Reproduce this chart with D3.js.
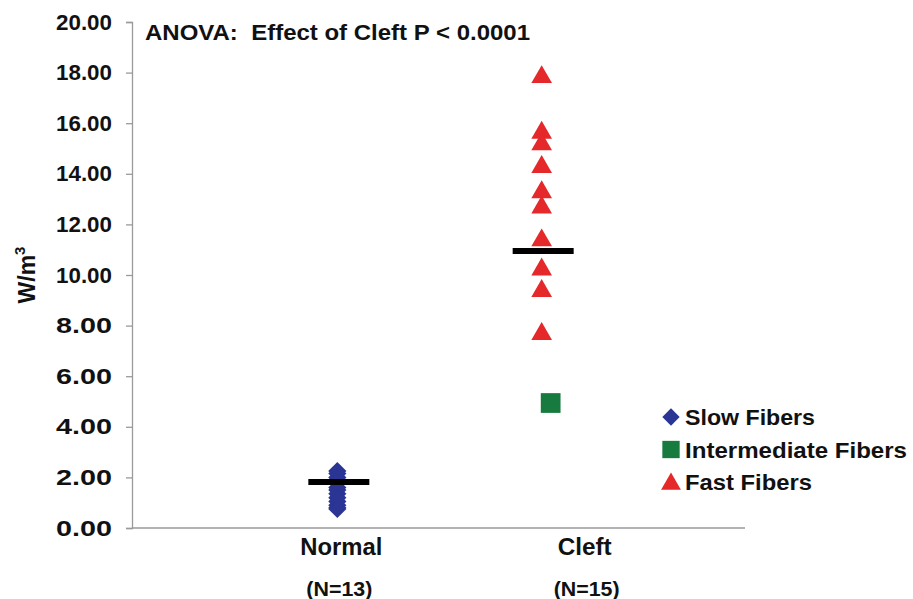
<!DOCTYPE html>
<html>
<head>
<meta charset="utf-8">
<script src="https://cdn.jsdelivr.net/npm/d3@7"></script>
<style>
  html, body { margin: 0; padding: 0; background: #fff; }
  svg { display: block; font-family: "Liberation Sans", Arial, sans-serif; }
  text { font-weight: bold; fill: #111; }
</style>
</head>
<body>
<svg id="chart" width="913" height="599"></svg>
<script>
// Groups and sample sizes
const groups = ["Normal", "Cleft"];
const groupN = ["(N=13)", "(N=15)"];

// Power density (W/m^3) per fiber, by fiber type
const slowNormal = [2.25, 2.15, 2.0, 1.9, 1.8, 1.6, 1.5, 1.35, 1.2, 1.05, 0.9, 0.8, 0.75];
const fastCleft = [17.9, 15.7, 15.25, 14.35, 13.35, 12.75, 11.45, 10.3, 9.45, 7.75];
const intermediateCleft = [4.94];

// Group means
const groupMeans = [1.82, 10.95];

// Axis ticks
const yTicks = [0, 2, 4, 6, 8, 10, 12, 14, 16, 18, 20];

const legendItems = ["Slow Fibers", "Intermediate Fibers", "Fast Fibers"];
const legendWidths = [130, 222, 127];
const colors = { slow: "#2b3594", inter: "#177a3e", fast: "#e5282a" };

const svg = d3.select("#chart");
const margin = { left: 132, right: 168, top: 22, bottom: 71 };
const W = 913, H = 599;

const y = d3.scaleLinear().domain([0, 20]).range([H - margin.bottom, margin.top]);
const x = d3.scalePoint().domain(groups).range([margin.left, W - margin.right]).padding(1);

// Y axis
const yAxis = svg.append("g")
  .attr("transform", `translate(${margin.left},0)`)
  .call(d3.axisLeft(y).tickValues(yTicks).tickFormat(d3.format(".2f")).tickSize(6).tickPadding(14));
yAxis.select(".domain").attr("stroke", "#9a9a9a").attr("stroke-width", 1.3);
yAxis.selectAll(".tick line").attr("stroke", "#9a9a9a").attr("stroke-width", 1.3);
yAxis.selectAll(".tick text").style("font-size", "22px").style("font-weight", "bold")
  .attr("fill", "#111").attr("font-family", "Liberation Sans, Arial, sans-serif")
  .attr("textLength", 56).attr("lengthAdjust", "spacingAndGlyphs");

// X axis baseline
svg.append("line")
  .attr("x1", margin.left).attr("x2", W - margin.right)
  .attr("y1", y(0)).attr("y2", y(0))
  .attr("stroke", "#9a9a9a").attr("stroke-width", 1.5);

// Y axis title
const yTitle = svg.append("text")
  .attr("transform", `translate(35,${(y(0) + y(20)) / 2}) rotate(-90)`)
  .attr("text-anchor", "middle")
  .style("font-size", "23px");
yTitle.append("tspan").text("W/m");
yTitle.append("tspan").attr("dy", -10).style("font-size", "15px").text("3");

// Category labels
const labelShift = { Normal: 5, Cleft: 44 };
groups.forEach((g, i) => {
  svg.append("text")
    .attr("x", x(g) + labelShift[g]).attr("y", 555)
    .attr("text-anchor", "middle").style("font-size", "23px")
    .attr("textLength", g === "Normal" ? 82 : 54).attr("lengthAdjust", "spacingAndGlyphs")
    .text(g);
  svg.append("text")
    .attr("x", x(g) + labelShift[g] + (i === 0 ? -2 : 2)).attr("y", 596)
    .attr("text-anchor", "middle").style("font-size", "21px")
    .attr("textLength", 66).attr("lengthAdjust", "spacingAndGlyphs")
    .text(groupN[i]);
});

// ANOVA note
svg.append("text")
  .attr("x", 145).attr("y", 40)
  .attr("xml:space", "preserve").style("white-space", "pre")
  .style("font-size", "22px")
  .attr("textLength", 385).attr("lengthAdjust", "spacingAndGlyphs")
  .text("ANOVA:  Effect of Cleft P < 0.0001");

// Marker shapes
const diamond = d3.symbol().type(d3.symbolSquare).size(165);
const square = d3.symbol().type(d3.symbolSquare).size(390);
const triangle = d3.symbol().type(d3.symbolTriangle).size(185);

// Slow fibers (Normal)
svg.append("g").selectAll("path").data(slowNormal).join("path")
  .attr("d", diamond)
  .attr("transform", d => `translate(${x("Normal") + 1},${y(d)}) rotate(45)`)
  .attr("fill", colors.slow);

// Intermediate fibers (Cleft)
svg.append("g").selectAll("path").data(intermediateCleft).join("path")
  .attr("d", square)
  .attr("transform", d => `translate(${x("Cleft") + 10},${y(d)})`)
  .attr("fill", colors.inter);

// Fast fibers (Cleft)
svg.append("g").selectAll("path").data(fastCleft).join("path")
  .attr("d", triangle)
  .attr("transform", d => `translate(${x("Cleft") + 1},${y(d) + 2})`)
  .attr("fill", colors.fast);

// Mean bars
svg.append("g").selectAll("line").data(groups).join("line")
  .attr("x1", g => x(g) - 28).attr("x2", g => x(g) + 33)
  .attr("y1", (g, i) => y(groupMeans[i])).attr("y2", (g, i) => y(groupMeans[i]))
  .attr("stroke", "#000").attr("stroke-width", 6);

// Legend
const legend = svg.append("g").attr("transform", "translate(671,417)");
const legendShapes = [
  { sym: d3.symbol().type(d3.symbolSquare).size(150), rot: 45, color: colors.slow, dy: 0 },
  { sym: d3.symbol().type(d3.symbolSquare).size(300), rot: 0, color: colors.inter, dy: 0 },
  { sym: d3.symbol().type(d3.symbolTriangle).size(170), rot: 0, color: colors.fast, dy: 2 }
];
legendItems.forEach((label, i) => {
  const row = legend.append("g").attr("transform", `translate(0,${i * 32.5})`);
  row.append("path").attr("d", legendShapes[i].sym)
    .attr("transform", `translate(0,${legendShapes[i].dy}) rotate(${legendShapes[i].rot})`)
    .attr("fill", legendShapes[i].color);
  row.append("text").attr("x", 14).attr("y", 8).style("font-size", "22px")
    .attr("textLength", legendWidths[i]).attr("lengthAdjust", "spacingAndGlyphs")
    .text(label);
});
</script>
</body>
</html>
